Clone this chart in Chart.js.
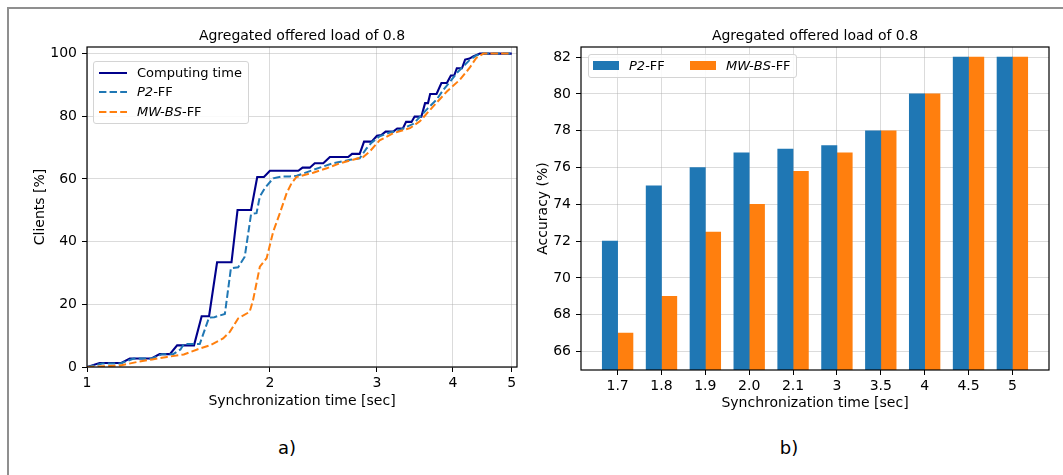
<!DOCTYPE html>
<html>
<head>
<meta charset="utf-8">
<script src="https://cdn.jsdelivr.net/npm/chart.js@4.4.1/dist/chart.umd.min.js"></script>
<style>
body { margin: 0; background: #fff; font-family: 'DejaVu Sans', sans-serif; }
#page { position: relative; width: 1063px; height: 475px; overflow: hidden; background: #fff; }
#frame { position: absolute; left: 7px; top: 7px; width: 1070px; height: 480px; border-top: 2px solid #8f8f8f; border-left: 2px solid #8f8f8f; }
canvas { position: absolute; top: 0; }
#curves { left: 0; }
#bars { left: 530px; }
.legend { position: absolute; background: rgba(255,255,255,0.85); border: 1px solid #d4d4d4; border-radius: 3px; font-size: 13px; color: #000; }
.legend .row { position: absolute; white-space: nowrap; line-height: 16px; }
.legend svg { position: absolute; }
.sub { position: absolute; top: 436px; width: 100px; text-align: center; font-size: 18px; line-height: 24px; color: #000; }
</style>
</head>
<body>
<div id="page">
  <div id="frame"></div>
  <canvas id="curves" width="530" height="420"></canvas>
  <canvas id="bars" width="533" height="420"></canvas>
  <div id="legendCurves" class="legend" style="left:93px; top:61px; width:154px; height:61px;"></div>
  <div id="legendBars" class="legend" style="left:588px; top:54px; width:207px; height:22px;"></div>
  <div class="sub" style="left:237px;">a)</div>
  <div class="sub" style="left:739px;">b)</div>
</div>
<script>
// ---- data: left chart (CDF of clients vs sync time) ----
var computingX = [1, 1.049, 1.139, 1.176, 1.277, 1.317, 1.369, 1.407, 1.5, 1.544, 1.588, 1.637, 1.729, 1.769, 1.862, 1.906, 1.955, 2.0, 2.227, 2.263, 2.326, 2.37, 2.448, 2.51, 2.69, 2.73, 2.81, 2.857, 2.94, 3.0, 3.05, 3.1, 3.19, 3.24, 3.31, 3.35, 3.42, 3.46, 3.55, 3.6, 3.64, 3.67, 3.76, 3.83, 3.91, 3.97, 4.02, 4.06, 4.14, 4.19, 4.26, 4.32, 4.43, 5.0];
var computingY = [0, 1.3, 1.3, 2.7, 2.7, 4.1, 4.1, 6.9, 6.9, 16.2, 16.2, 33.4, 33.4, 50.1, 50.1, 60.6, 60.6, 62.6, 62.6, 63.6, 63.6, 65.0, 65.0, 67.0, 67.0, 68.0, 68.0, 71.9, 71.9, 73.8, 74.0, 75.1, 75.1, 76.1, 76.1, 78.2, 78.2, 79.9, 79.9, 84.2, 84.2, 87.1, 87.1, 90.6, 90.6, 93.0, 93.0, 95.3, 95.3, 98.1, 98.4, 99.1, 100, 100];

var p2X = [1, 1.06, 1.135, 1.194, 1.28, 1.329, 1.386, 1.425, 1.443, 1.533, 1.588, 1.62, 1.686, 1.725, 1.773, 1.818, 1.862, 1.901, 1.925, 1.962, 2.025, 2.09, 2.155, 2.214, 2.357, 2.448, 2.54, 2.71, 2.81, 2.886, 2.94, 3.03, 3.15, 3.28, 3.445, 3.53, 3.64, 3.76, 3.86, 3.96, 4.06, 4.16, 4.26, 4.37, 4.46, 5.0];
var p2Y = [0, 1.1, 1.1, 2.7, 2.7, 4.1, 4.1, 5.6, 7.3, 7.3, 15.8, 15.9, 16.9, 31.5, 31.8, 35.2, 48.8, 49.1, 54.4, 57.1, 60.2, 60.8, 60.8, 61.0, 62.9, 64.0, 65.0, 66.1, 66.6, 69.8, 71.6, 73.6, 74.8, 75.7, 77.6, 79.8, 82.6, 85.3, 88.5, 91.1, 93.8, 95.9, 97.9, 99.4, 100, 100];

var mwX = [1, 1.065, 1.135, 1.209, 1.28, 1.354, 1.443, 1.518, 1.593, 1.675, 1.718, 1.773, 1.852, 1.876, 1.925, 1.975, 2.025, 2.077, 2.13, 2.17, 2.21, 2.357, 2.48, 2.605, 2.74, 2.847, 2.92, 3.03, 3.19, 3.4, 3.53, 3.71, 3.91, 4.11, 4.26, 4.37, 4.49, 5.0];
var mwY = [0, 0.2, 0.5, 1.6, 2.4, 3.2, 4.0, 5.6, 6.9, 9.1, 11.2, 15.5, 17.6, 21.3, 32.0, 34.7, 43.2, 49.1, 55.4, 58.6, 60.6, 62.0, 63.4, 65.0, 66.1, 67.0, 68.8, 72.3, 74.6, 76.2, 78.4, 83.1, 87.9, 91.7, 95.4, 98.6, 100, 100];

var syncTicks = [1, 2, 3, 4, 5];
var clientTicks = [0, 20, 40, 60, 80, 100];

// ---- data: right chart (accuracy per sync time) ----
var syncLabels = ['1.7', '1.8', '1.9', '2.0', '2.1', '3', '3.5', '4', '4.5', '5'];
var p2Accuracy = [72, 75, 76, 76.8, 77, 77.2, 78, 80, 82, 82];
var mwAccuracy = [67, 69, 72.5, 74, 75.8, 76.8, 78, 80, 82, 82];
var accuracyTicks = [66, 68, 70, 72, 74, 76, 78, 80, 82];

var curveLegend = ['Computing time', '<i>P2</i>-FF', '<i>MW-BS</i>-FF'];
var barLegend = ['<i>P2</i>-FF', '<i>MW-BS</i>-FF'];

var navy = '#00008b', blue = '#1f77b4', orange = '#ff7f0e';
var gridColor = 'rgba(176,176,176,0.45)';
var dash = [7.4, 3.2];

Chart.defaults.font.family = "'DejaVu Sans', sans-serif";
Chart.defaults.font.size = 14;
Chart.defaults.color = '#000';

function toPoints(xs, ys) {
    return xs.map(function(x, i) { return {x: x, y: ys[i]}; });
}

// black box around the plot area, like matplotlib spines
var spines = {
    id: 'spines',
    afterDatasetsDraw: function(chart) {
        var a = chart.chartArea, ctx = chart.ctx;
        ctx.save();
        ctx.strokeStyle = '#000';
        ctx.lineWidth = 1.2;
        ctx.strokeRect(a.left, a.top, a.right - a.left, a.bottom - a.top);
        ctx.restore();
    }
};

function axisGrid() {
    return { color: gridColor, lineWidth: 1, tickLength: 5, tickColor: '#000', offset: false };
}

var chartTitle = { display: true, fullSize: false, text: 'Agregated offered load of 0.8', font: { size: 14, weight: 'normal' }, padding: { top: 27.6, bottom: 2.6 } };

var curves = new Chart(document.getElementById('curves'), {
    type: 'line',
    data: {
        datasets: [
            { label: 'Computing time', data: toPoints(computingX, computingY), borderColor: navy, borderWidth: 2.1, order: 3 },
            { label: 'P2-FF', data: toPoints(p2X, p2Y), borderColor: blue, borderWidth: 2, borderDash: dash, order: 2 },
            { label: 'MW-BS-FF', data: toPoints(mwX, mwY), borderColor: orange, borderWidth: 2, borderDash: dash, order: 1 }
        ]
    },
    options: {
        responsive: false,
        animation: false,
        pointRadius: 0,
        tension: 0,
        layout: { padding: { left: 0, right: 13, top: 0, bottom: 0 } },
        plugins: {
            legend: { display: false },
            tooltip: { enabled: false },
            title: chartTitle
        },
        scales: {
            x: {
                type: 'logarithmic', min: 1, max: 5.1,
                afterBuildTicks: function(s) { s.ticks = syncTicks.map(function(v) { return {value: v}; }); },
                afterFit: function(s) { s.height = 53; },
                ticks: { callback: function(v) { return String(v); }, padding: 3, autoSkip: false, maxRotation: 0 },
                grid: axisGrid(),
                border: { display: false },
                title: { display: true, text: 'Synchronization time [sec]', padding: { top: 0, bottom: 10.6 } }
            },
            y: {
                min: 0, max: 102.1,
                afterBuildTicks: function(s) { s.ticks = clientTicks.map(function(v) { return {value: v}; }); },
                afterFit: function(s) { s.width = 87; },
                ticks: { padding: 5 },
                grid: axisGrid(),
                border: { display: false },
                title: { display: true, text: 'Clients [%]', padding: { top: 31.6, bottom: 0 } }
            }
        }
    },
    plugins: [spines]
});

var bars = new Chart(document.getElementById('bars'), {
    type: 'bar',
    data: {
        datasets: [
            { label: 'P2-FF', data: toPoints(syncLabels.map(function(l, i) { return i - 0.175; }), p2Accuracy), backgroundColor: blue },
            { label: 'MW-BS-FF', data: toPoints(syncLabels.map(function(l, i) { return i + 0.175; }), mwAccuracy), backgroundColor: orange }
        ]
    },
    options: {
        responsive: false,
        animation: false,
        grouped: false,
        barPercentage: 1,
        categoryPercentage: 1,
        layout: { padding: { left: 0, right: 14, top: 0, bottom: 0 } },
        plugins: {
            legend: { display: false },
            tooltip: { enabled: false },
            title: chartTitle
        },
        scales: {
            x: {
                type: 'linear', min: -0.835, max: 9.835, offset: false,
                afterBuildTicks: function(s) { s.ticks = syncLabels.map(function(l, i) { return {value: i}; }); },
                afterFit: function(s) { s.height = 50; },
                ticks: { callback: function(v) { return syncLabels[Math.round(v)]; }, padding: 3, autoSkip: false, maxRotation: 0 },
                grid: axisGrid(),
                border: { display: false },
                title: { display: true, text: 'Synchronization time [sec]', padding: { top: 0, bottom: 8.6 } }
            },
            y: {
                min: 65, max: 82.55,
                afterBuildTicks: function(s) { s.ticks = accuracyTicks.map(function(v) { return {value: v}; }); },
                afterFit: function(s) { s.width = 51; },
                ticks: { padding: 5 },
                grid: axisGrid(),
                border: { display: false },
                title: { display: true, text: 'Accuracy (%)', padding: { top: 4.6, bottom: 0 } }
            }
        }
    },
    plugins: [spines]
});

// html legends, built from the chart datasets
function lineSample(color, dashArr) {
    return '<svg width="28" height="4" style="left:5px; top:6px;"><line x1="0" y1="2" x2="28" y2="2" stroke="' + color +
        '" stroke-width="2"' + (dashArr ? ' stroke-dasharray="' + dashArr.join(' ') + '"' : '') + '/></svg>';
}
var html = '';
curves.data.datasets.forEach(function(ds, i) {
    var cy = 10.5 + i * 19.6;
    html += '<div class="row" style="left:0; top:' + (cy - 8) + 'px; width:150px; height:16px;">' +
        lineSample(ds.borderColor, ds.borderDash) +
        '<span style="position:absolute; left:43px;">' + curveLegend[i] + '</span></div>';
});
document.getElementById('legendCurves').innerHTML = html;

html = '';
bars.data.datasets.forEach(function(ds, i) {
    var x0 = 4 + i * 97;
    html += '<div style="position:absolute; left:' + x0 + 'px; top:6px; width:26px; height:9px; background:' + ds.backgroundColor + ';"></div>' +
        '<div class="row" style="left:' + (x0 + 36) + 'px; top:3px;">' + barLegend[i] + '</div>';
});
document.getElementById('legendBars').innerHTML = html;
</script>
</body>
</html>
